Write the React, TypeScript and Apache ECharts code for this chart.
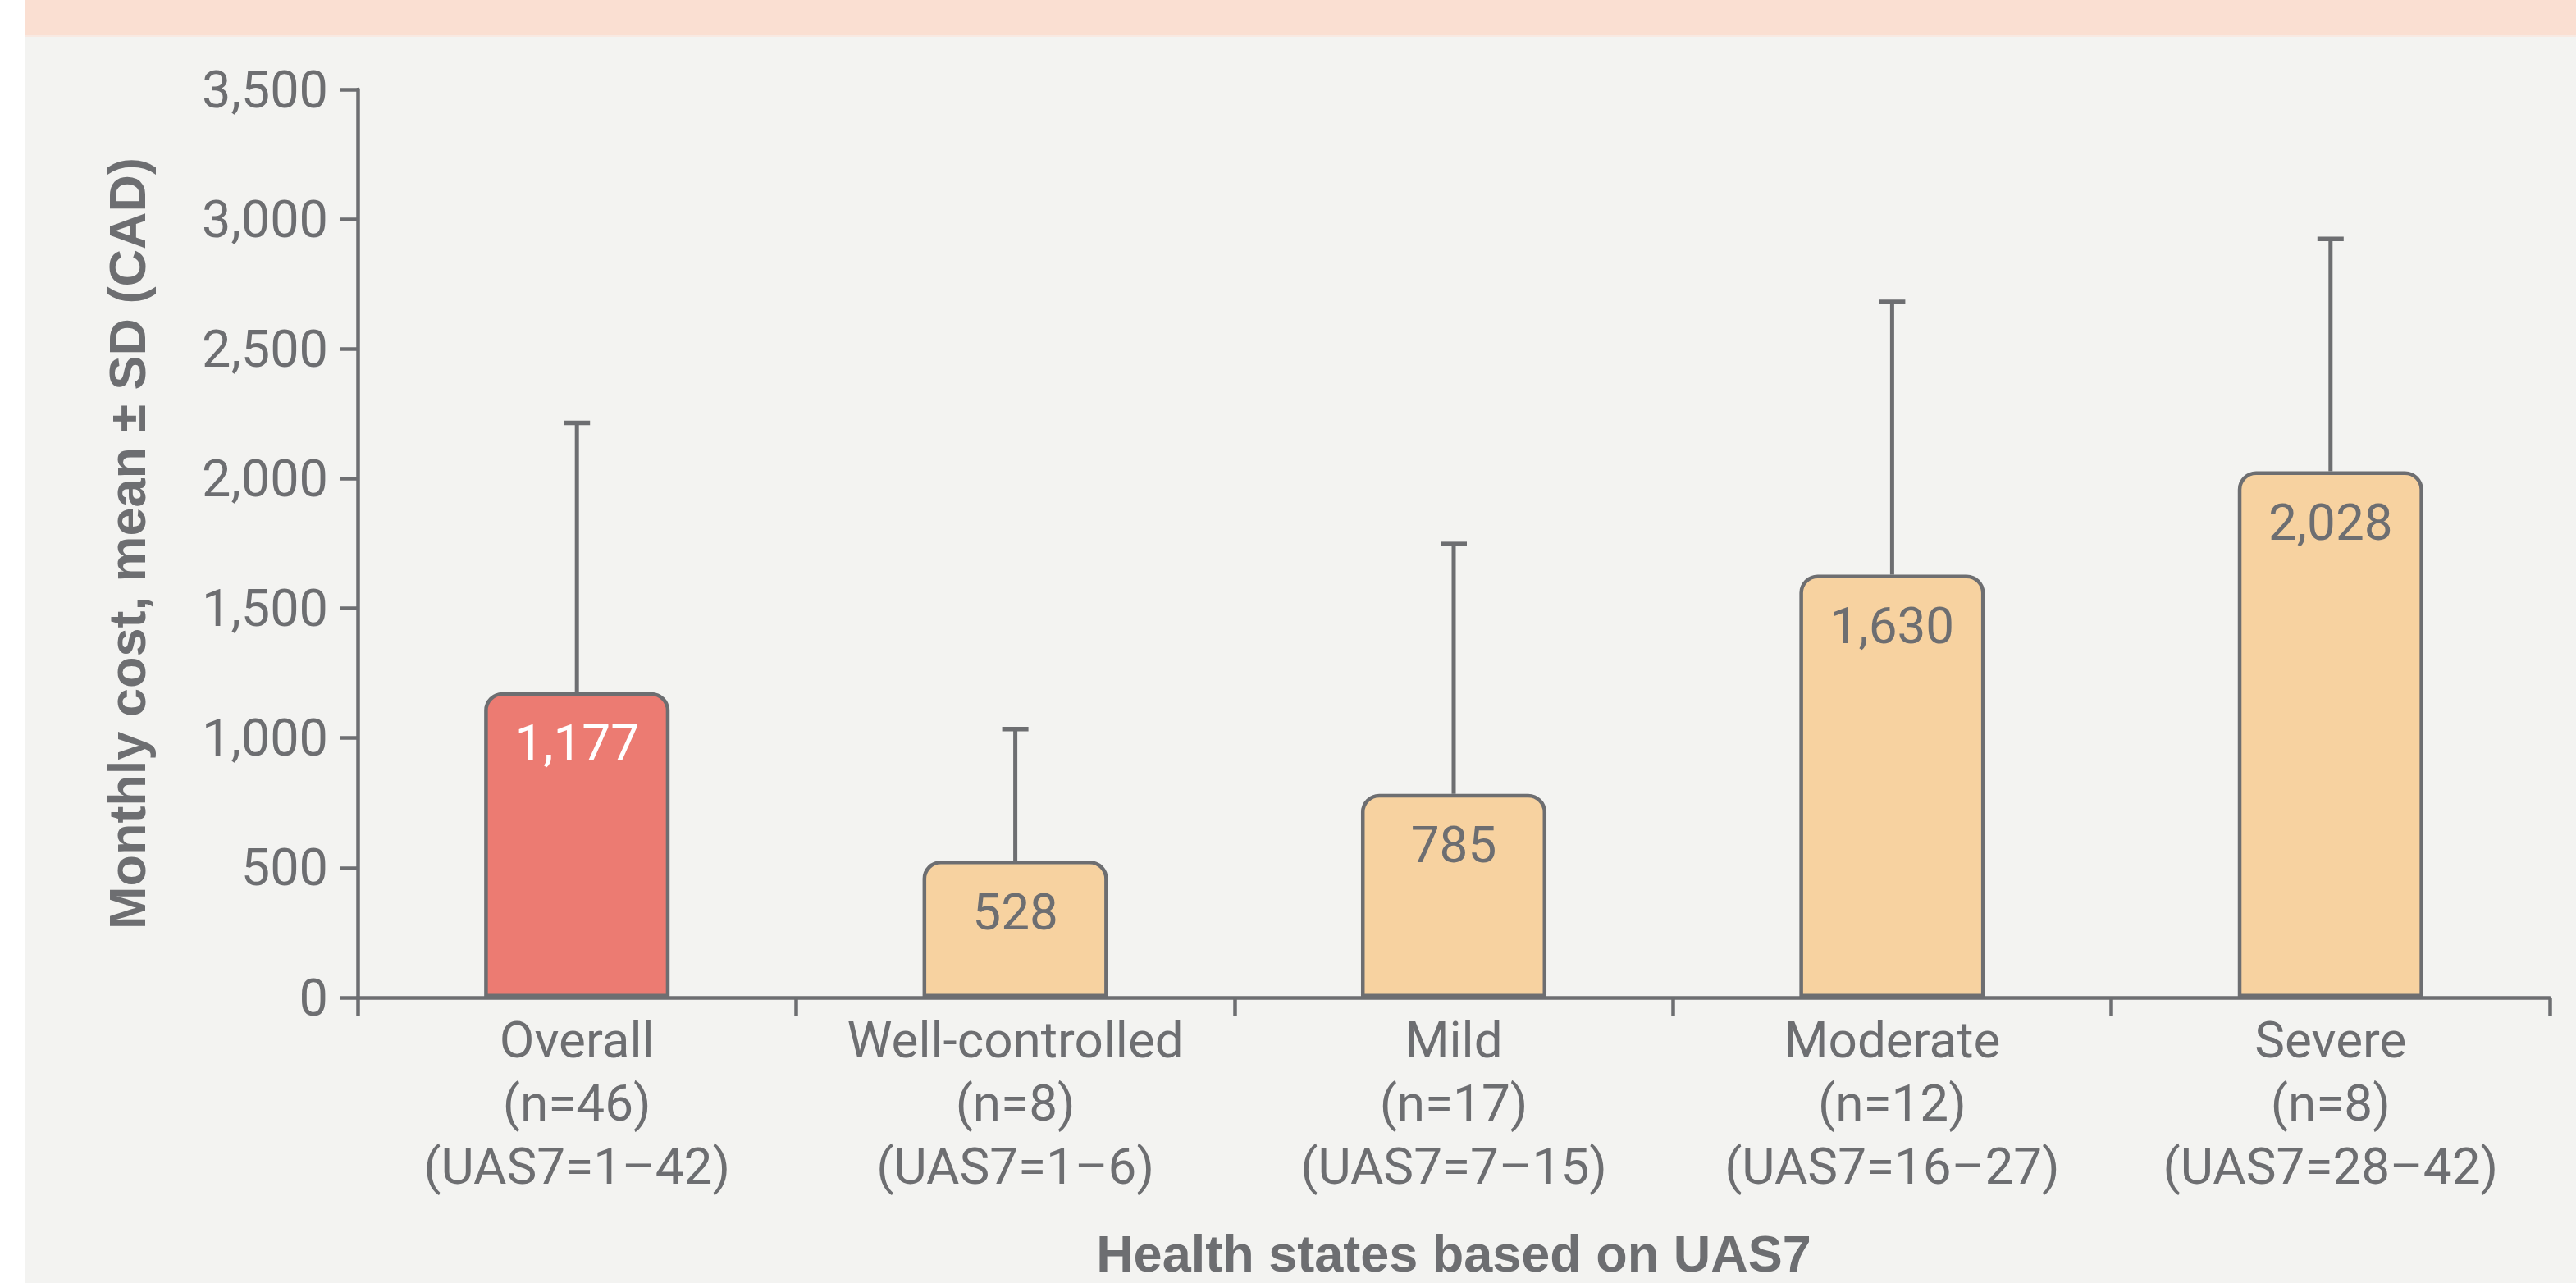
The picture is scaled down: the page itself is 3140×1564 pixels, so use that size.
import React, { useEffect, useRef } from "react";
import * as echarts from "echarts";

const groupNames = ["Overall", "Well-controlled", "Mild", "Moderate", "Severe"];
const groupN = ["(n=46)", "(n=8)", "(n=17)", "(n=12)", "(n=8)"];
const groupRange = ["(UAS7=1–42)", "(UAS7=1–6)", "(UAS7=7–15)", "(UAS7=16–27)", "(UAS7=28–42)"];
const meanCost = [1177, 528, 785, 1630, 2028];
const sdCost = [1038, 507, 963, 1051, 896];
const yTicks = { min: 0, max: 3500, interval: 500 };

const GREY = "#6D6E71";
const RED = "#EC7B72";
const ORANGE = "#F7D2A0";
const FONT = "Roboto, 'Liberation Sans', sans-serif";
const BOLD_FONT = "'Liberation Sans', Arial, sans-serif";

const fmt = (v: number) => String(v).replace(/\B(?=(\d{3})+(?!\d))/g, ",");

export default function App() {
  const ref = useRef<HTMLDivElement>(null);
  useEffect(() => {
    if (!ref.current) return;
    const chart = echarts.init(ref.current, null, { renderer: "svg" });
    const categories = groupNames.map((n, i) => `${n}\n${groupN[i]}\n${groupRange[i]}`);
    const option: any = {
      animation: false,
      backgroundColor: "#FFFFFF",
      graphic: [
        { type: "rect", left: 30, top: 0, shape: { width: 3110, height: 43 }, style: { fill: "#FADFD2" }, z: -10 },
        { type: "rect", left: 30, top: 43, shape: { width: 3110, height: 2 }, style: { fill: "#F8E9E2" }, z: -10 },
        { type: "rect", left: 30, top: 45, shape: { width: 3110, height: 1519 }, style: { fill: "#F3F3F1" }, z: -10 },
      ],
      grid: { left: 436, right: 32, top: 109, bottom: 346, containLabel: false },
      xAxis: {
        type: "category",
        data: categories,
        boundaryGap: true,
        axisLine: { show: true, lineStyle: { color: GREY, width: 4.5 } },
        axisTick: { show: true, length: 22, lineStyle: { color: GREY, width: 4.5 } },
        axisLabel: {
          color: GREY,
          fontFamily: FONT,
          fontWeight: 400,
          fontSize: 62,
          lineHeight: 77,
          margin: 13,
          interval: 0,
        },
        name: "Health states based on UAS7",
        nameLocation: "middle",
        nameGap: 280,
        nameTextStyle: { color: GREY, fontFamily: BOLD_FONT, fontWeight: "bold", fontSize: 63 },
      },
      yAxis: {
        type: "value",
        min: yTicks.min,
        max: yTicks.max,
        interval: yTicks.interval,
        splitLine: { show: false },
        axisLine: { show: true, lineStyle: { color: GREY, width: 4.5 } },
        axisTick: { show: true, length: 22, lineStyle: { color: GREY, width: 4.5 } },
        axisLabel: {
          color: GREY,
          fontFamily: FONT,
          fontWeight: 400,
          fontSize: 63,
          margin: 36,
          formatter: (v: number) => fmt(v),
        },
        name: "Monthly cost, mean ± SD (CAD)",
        nameLocation: "middle",
        nameRotate: 90,
        nameGap: 250,
        nameTextStyle: { color: GREY, fontFamily: BOLD_FONT, fontWeight: "bold", fontSize: 63 },
      },
      series: [
        {
          type: "custom",
          z: 1,
          data: meanCost.map((m, i) => [i, m, m + sdCost[i]]),
          encode: { x: 0, y: [1, 2] },
          renderItem: (params: any, api: any) => {
            const base = api.coord([api.value(0), api.value(1)]);
            const top = api.coord([api.value(0), api.value(2)]);
            return {
              type: "group",
              children: [
                {
                  type: "line",
                  shape: { x1: base[0], y1: base[1], x2: top[0], y2: top[1] },
                  style: { stroke: GREY, lineWidth: 5 },
                },
                {
                  type: "rect",
                  shape: { x: top[0] - 16, y: top[1] - 2.75, width: 32, height: 5.5 },
                  style: { fill: GREY },
                },
              ],
            };
          },
        },
        {
          type: "bar",
          z: 2,
          barWidth: "42.3%",
          data: meanCost.map((v, i) => ({
            value: v,
            itemStyle: { color: i === 0 ? RED : ORANGE },
            label: { color: i === 0 ? "#FFFFFF" : GREY },
          })),
          itemStyle: { borderColor: GREY, borderWidth: 4.5, borderRadius: [20, 20, 0, 0] },
          label: {
            show: true,
            position: "insideTop",
            distance: 31,
            fontFamily: FONT,
            fontWeight: 400,
            fontSize: 62,
            formatter: (p: any) => fmt(p.value),
          },
        },
      ],
    };
    chart.setOption(option);
    return () => chart.dispose();
  }, []);
  return (
    <div
      ref={ref}
      style={{ position: "fixed", left: 0, top: 0, width: 3140, height: 1564, background: "#FFFFFF" }}
    />
  );
}
